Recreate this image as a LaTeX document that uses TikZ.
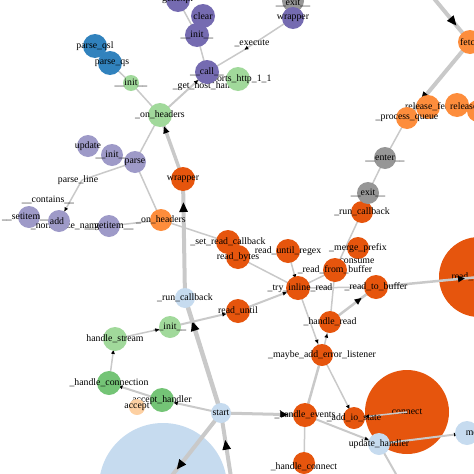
\documentclass[tikz,border=0pt]{standalone}
\usepackage{fontspec}
\setmainfont{Liberation Serif}
\usetikzlibrary{arrows.meta,decorations.markings}
\definecolor{purpA}{HTML}{756BB1}
\definecolor{purpB}{HTML}{9E9AC8}
\definecolor{blueA}{HTML}{3182BD}
\definecolor{blueL}{HTML}{C6DBEF}
\definecolor{greenL}{HTML}{A1D99B}
\definecolor{greenM}{HTML}{74C476}
\definecolor{orangeD}{HTML}{E6550D}
\definecolor{orangeM}{HTML}{FD8D3C}
\definecolor{orangeL}{HTML}{FDD0A2}
\definecolor{greyN}{HTML}{969696}
\definecolor{linkgrey}{HTML}{C9C9C9}
\pgfdeclarelayer{back}
\pgfdeclarelayer{links}
\pgfsetlayers{back,links,main}

\begin{document}
\begin{tikzpicture}[
    x=1pt, y=-1pt,
    fn/.style={circle, inner sep=0pt, minimum size=24pt, fill=#1},
    tn/.style={circle, inner sep=0pt, minimum size=1pt},
    lbl/.style={font=\fontsize{9.8}{10}\selectfont, inner sep=0pt, text=black},
    link/.style={draw=linkgrey, line width=#1},
    smalltip/.style={postaction={decorate, decoration={markings, mark=at position #1 with {\arrow{Triangle[color=black, length=4pt, width=3.5pt]}}}}},
    midtip/.style={postaction={decorate, decoration={markings, mark=at position #1 with {\arrow{Triangle[color=black, length=7pt, width=6pt]}}}}},
    bigtip/.style={postaction={decorate, decoration={markings, mark=at position #1 with {\arrow{Triangle[color=black, length=10pt, width=8pt]}}}}}
]
\useasboundingbox (0,0) rectangle (474,474);
\clip (0,0) rectangle (474,474);

% large circles sit under the links
\begin{pgfonlayer}{back}
\node[fn=blueL, minimum size=128pt] (bigblue) at (163,487) {};
\node[fn=orangeD, minimum size=84pt, label={[lbl]center:connect}] (connect) at (407,412) {};
\node[fn=orangeD, minimum size=80pt, label={[lbl, xshift=-3pt]center:\_read\_from\_fd}] (readfromfd) at (479,277) {};
\end{pgfonlayer}

% top cluster
\node[fn=purpA, label={[lbl]center:<genexpr>}] (genexpr) at (178,0) {};
\node[fn=purpA, label={[lbl]center:clear}] (clear) at (203,16) {};
\node[fn=purpA, label={[lbl]center:\_\_init\_\_}] (initA) at (197,35) {};
\node[fn=greyN, minimum size=22pt, label={[lbl, yshift=-2pt]center:\_\_exit\_\_}] (exitA) at (293,1) {};
\node[fn=purpA, minimum size=22pt, label={[lbl]center:wrapper}] (wrapperP) at (293,18) {};
\node[tn, label={[lbl, xshift=8pt, yshift=7pt]center:\_execute}] (execute) at (244,50) {};
\node[tn, label={[lbl]center:\_get\_host\_handler}] (gethost) at (209,86) {};
\node[fn=greenL, label={[lbl, xshift=-3pt]center:supports\_http\_1\_1}] (supports) at (238,79) {};
\node[fn=purpA, label={[lbl]center:\_\_call\_\_}] (call) at (207,72) {};
\node[fn=blueA, label={[lbl]center:parse\_qsl}] (parseqsl) at (95,46) {};
\node[fn=blueA, label={[lbl, xshift=2pt]center:parse\_qs}] (parseqs) at (110,63) {};
\node[fn=greenL, minimum size=16pt, label={[lbl]center:\_\_init\_\_}] (initG) at (131,83) {};
\node[fn=greenL, label={[lbl]center:\_on\_headers}] (onheadG) at (160,115) {};

% header parsing
\node[fn=purpB, minimum size=22pt, label={[lbl]center:update}] (update) at (88,146) {};
\node[fn=purpB, minimum size=22pt, label={[lbl]center:\_\_init\_\_}] (initB) at (112,155) {};
\node[fn=purpB, minimum size=22pt, label={[lbl]center:parse}] (parse) at (135,162) {};
\node[tn, label={[lbl, xshift=-4pt]center:parse\_line}] (parseline) at (82,180) {};
\node[tn, label={[lbl]center:\_\_contains\_\_}] (contains) at (48,200) {};
\node[fn=purpB, minimum size=22pt, label={[lbl, xshift=-3pt]center:\_\_setitem\_\_}] (setitem) at (29,217) {};
\node[tn, label={[lbl]center:\_normalize\_name}] (normalize) at (66,226) {};
\node[fn=purpB, minimum size=22pt, label={[lbl, xshift=-2pt]center:add}] (add) at (59,221) {};
\node[fn=purpB, minimum size=22pt, label={[lbl]center:\_\_getitem\_\_}] (getitem) at (109,226) {};
\node[fn=orangeM, minimum size=22pt, label={[lbl]center:\_on\_headers}] (onheadO) at (161,220) {};

% stream reading
\node[fn=orangeD, label={[lbl]center:wrapper}] (wrapperO) at (183,179) {};
\node[fn=orangeD, label={[lbl]center:\_set\_read\_callback}] (setreadcb) at (228,242) {};
\node[fn=orangeD, label={[lbl]center:read\_bytes}] (readbytes) at (238,257) {};
\node[fn=orangeD, label={[lbl]center:read\_until\_regex}] (readuntilregex) at (288,251) {};
\node[fn=orangeD, minimum size=22pt, label={[lbl]center:\_merge\_prefix}] (mergeprefix) at (358,248) {};
\node[tn, label={[lbl]center:consume}] (consume) at (357,261) {};
\node[fn=orangeD, label={[lbl]center:\_read\_from\_buffer}] (readfrombuffer) at (335,270) {};
\node[fn=orangeD, label={[lbl, xshift=2pt]center:\_try\_inline\_read}] (tryinline) at (298,288) {};
\node[fn=orangeD, label={[lbl]center:\_read\_to\_buffer}] (readtobuffer) at (376,287) {};
\node[fn=orangeD, minimum size=22pt, label={[lbl]center:\_run\_callback}] (runcbO) at (362,212) {};
\node[fn=greyN, minimum size=22pt, label={[lbl]center:\_\_exit\_\_}] (exitB) at (368,193) {};
\node[fn=greyN, minimum size=22pt, label={[lbl]center:\_\_enter\_\_}] (enter) at (385,158) {};

% client queue
\node[fn=orangeM, label={[lbl, xshift=3pt]center:release\_fetch}] (releaseA) at (428,107) {};
\node[fn=orangeM, minimum size=22pt, label={[lbl]center:\_process\_queue}] (processqueue) at (407,118) {};
\node[fn=orangeM] (releaseB) at (457,105) {};
\node[fn=orangeM, minimum size=22pt, label={[lbl, xshift=-2pt, yshift=4pt]center:release\_fetch}] (releaseC) at (478,111) {};
\node[fn=orangeM, label={[lbl]center:fetch}] (fetch) at (470,42) {};

% server side
\node[fn=blueL, minimum size=20pt, label={[lbl]center:\_run\_callback}] (runcbB) at (185,298) {};
\node[fn=orangeD, label={[lbl]center:read\_until}] (readuntil) at (238,311) {};
\node[fn=greenL, minimum size=22pt, label={[lbl]center:\_\_init\_\_}] (initG2) at (170,327) {};
\node[fn=greenL, label={[lbl]center:handle\_stream}] (handlestream) at (115,339) {};
\node[fn=greenM, label={[lbl]center:\_handle\_connection}] (handleconn) at (109,383) {};
\node[fn=greenM, label={[lbl]center:accept\_handler}] (accepthandler) at (162,400) {};
\node[fn=orangeL, minimum size=16pt, label={[lbl]center:accept}] (accept) at (137,407) {};
\node[fn=blueL, minimum size=20pt, label={[lbl]center:start}] (start) at (221,413) {};

% io loop
\node[fn=orangeD, minimum size=22pt, label={[lbl]center:\_handle\_read}] (handleread) at (330,322) {};
\node[fn=orangeD, minimum size=22pt, label={[lbl]center:\_maybe\_add\_error\_listener}] (maybeadd) at (322,355) {};
\node[fn=orangeD, label={[lbl]center:\_handle\_events}] (handleevents) at (305,415) {};
\node[fn=orangeD, minimum size=22pt, label={[lbl]center:\_add\_io\_state}] (addio) at (354,418) {};
\node[fn=blueL, minimum size=22pt, label={[lbl]center:update\_handler}] (updatehandler) at (379,444) {};
\node[fn=orangeD, minimum size=22pt, label={[lbl, yshift=-4pt]center:\_handle\_connect}] (handleconnect) at (304,463) {};
\node[fn=blueL, label={[lbl, xshift=13pt]center:modify}] (modify) at (467,433) {};

\coordinate (topin) at (427,-10);
\coordinate (botin) at (233,490);
\coordinate (botout) at (405,490);

% links, centre to centre, under the small circles
\begin{pgfonlayer}{links}
\draw[link=1.5] (genexpr.center) -- (initA.center);
\draw[link=1.5] (initA.center) -- (call.center);
\draw[link=1.5, smalltip=-0.5pt] (wrapperP.center) -- (execute.center);
\draw[link=1.5] (execute.center) -- (call.center);
\draw[link=2, smalltip=-12pt] (onheadG.center) -- (call.center);
\draw[link=1.5] (parseqs.center) -- (initG.center);
\draw[link=1.5] (initG.center) -- (onheadG.center);
\draw[link=3.5, midtip=-12pt] (wrapperO.center) -- (onheadG.center);
\draw[link=1.5] (onheadG.center) -- (parse.center);
\draw[link=1.5] (parse.center) -- (parseline.center);
\draw[link=1.5, smalltip=-11pt] (parseline.center) -- (add.center);
\draw[link=1.5] (onheadO.center) -- (getitem.center);
\draw[link=1.5] (onheadO.center) -- (parse.center);
\draw[link=1.5] (onheadO.center) -- (setreadcb.center);
\draw[link=1.5] (readbytes.center) -- (tryinline.center);
\draw[link=1.5, smalltip=-10pt] (readuntilregex.center) -- (tryinline.center);
\draw[link=2, smalltip=-12pt] (readuntil.center) -- (tryinline.center);
\draw[link=1.5] (tryinline.center) -- (readfrombuffer.center);
\draw[link=1.5] (tryinline.center) -- (readtobuffer.center);
\draw[link=1.5, smalltip=-12pt] (tryinline.center) -- (maybeadd.center);
\draw[link=1.5] (readfrombuffer.center) -- (handleread.center);
\draw[link=2.5, midtip=-18pt] (handleread.center) -- (readtobuffer.center);
\draw[link=2.5, midtip=-14pt] (readtobuffer.center) -- (readfromfd.center);
\draw[link=1.5] (runcbO.center) -- (readfrombuffer.center);
\draw[link=1.5] (exitB.center) -- (enter.center);
\draw[link=1.5] (enter.center) -- (processqueue.center);
\draw[link=4, bigtip=-21pt] (topin) -- (fetch.center);
\draw[link=4, bigtip=-21pt] (fetch.center) -- (processqueue.center);
\draw[link=4, bigtip=-23pt] (runcbB.center) -- (wrapperO.center);
\draw[link=4.5, bigtip=-24pt] (start.center) -- (runcbB.center);
\draw[link=4, bigtip=-22pt] (start.center) -- (bigblue.center);
\draw[link=4, bigtip=-27pt] (botin) -- (start.center);
\draw[link=2, smalltip=-12pt] (start.center) -- (accepthandler.center);
\draw[link=2, smalltip=-10pt] (accepthandler.center) -- (handleconn.center);
\draw[link=1.5, smalltip=-11pt] (handleconn.center) -- (handlestream.center);
\draw[link=1.5, smalltip=-11pt] (handlestream.center) -- (initG2.center);
\draw[link=2, smalltip=-12pt] (initG2.center) -- (readuntil.center);
\draw[link=3, midtip=-17pt] (start.center) -- (handleevents.center);
\draw[link=2.5] (handleevents.center) -- (maybeadd.center);
\draw[link=1.5, smalltip=-12pt] (maybeadd.center) -- (handleread.center);
\draw[link=1.5, smalltip=-10pt] (maybeadd.center) -- (addio.center);
\draw[link=1.5, smalltip=-11pt] (connect.center) -- (addio.center);
\draw[link=2, smalltip=-11pt] (handleevents.center) -- (updatehandler.center);
\draw[link=2, smalltip=-9pt] (updatehandler.center) -- (modify.center);
\draw[link=2] (updatehandler.center) -- (botout);
\draw[link=1.5] (handleevents.center) -- (handleconnect.center);
\end{pgfonlayer}
\end{tikzpicture}
\end{document}
